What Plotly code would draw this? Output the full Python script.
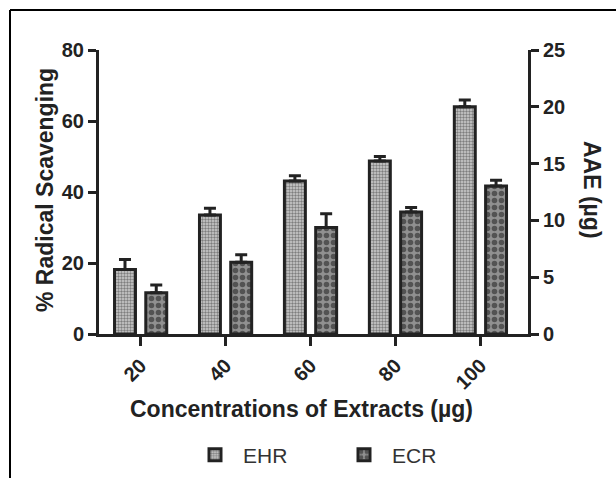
import plotly.graph_objects as go

categories = ["20", "40", "60", "80", "100"]
ehr_values = [18.2, 33.5, 43.1, 48.7, 64.0]
ehr_errors = [2.8, 1.9, 1.5, 1.3, 1.9]
ecr_values = [11.6, 20.2, 30.0, 34.4, 41.7]
ecr_errors = [2.2, 2.1, 3.9, 1.2, 1.6]
left_ticks = [0, 20, 40, 60, 80]
right_ticks = [0, 5, 10, 15, 20, 25]

FONT = "Liberation Sans, Arial, sans-serif"
INK = "#222222"

fig = go.Figure()
fig.add_trace(go.Bar(
    x=categories, y=ehr_values, name="EHR",
    marker=dict(color="#c4c4c4", line=dict(color=INK, width=3),
                pattern=dict(shape=".", fgcolor="#2e2e2e", bgcolor="#cfcfcf", size=3, solidity=0.5)),
    error_y=dict(type="data", array=ehr_errors, arrayminus=[0]*5, symmetric=False,
                 color=INK, thickness=3, width=6),
))
fig.add_trace(go.Bar(
    x=categories, y=ecr_values, name="ECR",
    marker=dict(color="#8c8c8c", line=dict(color=INK, width=3),
                pattern=dict(shape=".", fgcolor="#151515", bgcolor="#909090", size=7, solidity=0.5)),
    error_y=dict(type="data", array=ecr_errors, arrayminus=[0]*5, symmetric=False,
                 color=INK, thickness=3, width=6),
))
# invisible trace to bring up the right axis
fig.add_trace(go.Scatter(x=categories, y=[None]*5, yaxis="y2", showlegend=False, hoverinfo="skip"))

axis_common = dict(showline=True, linecolor=INK, linewidth=3, ticks="outside", tickwidth=3,
                   tickcolor=INK, showgrid=False, zeroline=False, automargin=False,
                   tickfont=dict(family=FONT, size=20, color=INK, weight="bold"))

PH = 284.0  # plot area height in px
fig.update_layout(
    width=616, height=478, autosize=False,
    margin=dict(l=99, r=88, t=50, b=144),
    paper_bgcolor="white", plot_bgcolor="white",
    barmode="group", bargap=0.264, bargroupgap=0.33,
    font=dict(family=FONT, color=INK),
    xaxis=dict(range=[-0.49, 4.56], ticklen=9, tickangle=-45, **axis_common),
    yaxis=dict(range=[0, 80], tickvals=left_ticks, ticklen=8, **axis_common),
    yaxis2=dict(range=[0, 25], tickvals=right_ticks, ticklen=8, overlaying="y", side="right",
                **axis_common),
    showlegend=True,
    legend=dict(orientation="h", xref="container", yref="container",
                x=187 / 616, xanchor="left", y=1 - 455 / 478, yanchor="middle",
                font=dict(family=FONT, size=21, color="#333333"), itemwidth=46,
                traceorder="normal", entrywidth=88),
    annotations=[
        dict(text="<b>Concentrations of Extracts (µg)</b>", xref="paper", yref="paper",
             x=(301 - 99) / 429, y=(334 - 409) / PH, xanchor="center", yanchor="middle",
             showarrow=False, font=dict(family=FONT, size=23, color=INK)),
        dict(text="<b>% Radical Scavenging</b>", xref="paper", yref="paper",
             x=(45 - 99) / 429, y=(334 - 190) / PH, xanchor="center", yanchor="middle",
             textangle=-90, showarrow=False, font=dict(family=FONT, size=23, color=INK)),
        dict(text="<b>AAE (µg)</b>", xref="paper", yref="paper",
             x=(592 - 99) / 429, y=(334 - 190) / PH, xanchor="center", yanchor="middle",
             textangle=90, showarrow=False, font=dict(family=FONT, size=23, color=INK)),
    ],
    shapes=[
        dict(type="line", xref="paper", yref="paper", x0=(10 - 99) / 429, x1=(616 - 99) / 429,
             y0=(334 - 10) / PH, y1=(334 - 10) / PH, line=dict(color="black", width=2)),
        dict(type="line", xref="paper", yref="paper", x0=(10 - 99) / 429, x1=(10 - 99) / 429,
             y0=(334 - 10) / PH, y1=(334 - 490) / PH, line=dict(color="black", width=2)),
    ],
)

fig.write_html("out.html", config={"displayModeBar": False, "responsive": False},
               post_script="document.body.style.margin='0';document.body.style.overflow='hidden';")
